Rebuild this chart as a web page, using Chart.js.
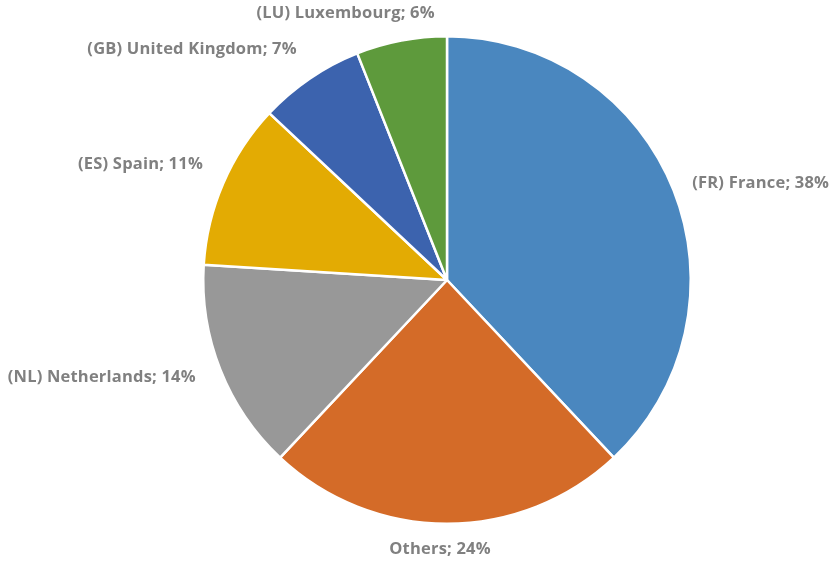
<!DOCTYPE html>
<html>
<head>
<meta charset="utf-8">
<script src="https://cdn.jsdelivr.net/npm/chart.js@4"></script>
<style>
html,body{margin:0;padding:0;background:#fff;}
#wrap{width:838px;height:563px;position:relative;}
</style>
</head>
<body>
<div id="wrap"><canvas id="c" width="838" height="563"></canvas></div>
<script>
const categories = ["(FR) France", "Others", "(NL) Netherlands", "(ES) Spain", "(GB) United Kingdom", "(LU) Luxembourg"];
const shares = [38, 24, 14, 11, 7, 6];
const colors = ["#4a87bf", "#d46b28", "#989898", "#e3ab03", "#3c63ae", "#5e9a3c"];

// small label nudges (px) to mimic the original best-fit placement
const labelNudge = [[0,0],[-7,-2],[-6,0],[-2,-11],[-2,-13],[-52,0]];

const labelPlugin = {
  id: 'outLabels',
  afterDatasetsDraw(chart) {
    const ctx = chart.ctx;
    const meta = chart.getDatasetMeta(0);
    ctx.save();
    ctx.font = 'bold 16.5px "Open Sans", sans-serif';
    if ('letterSpacing' in ctx) ctx.letterSpacing = '0.2px';
    ctx.fillStyle = '#808080';
    ctx.textBaseline = 'middle';
    meta.data.forEach((arc, i) => {
      const p = arc.getProps(['x','y','startAngle','endAngle','outerRadius'], true);
      const mid = (p.startAngle + p.endAngle) / 2;
      const R = p.outerRadius + 20;
      const cx = Math.cos(mid), sy = Math.sin(mid);
      let x = p.x + R * cx;
      let y = p.y + R * sy;
      let align = 'center';
      if (cx > 0.3) align = 'left';
      else if (cx < -0.3) align = 'right';
      else y += sy * 8;
      ctx.textAlign = align;
      const txt = categories[i] + '; ' + shares[i] + '%';
      ctx.fillText(txt, x + labelNudge[i][0], y + labelNudge[i][1]);
    });
    ctx.restore();
  }
};

new Chart(document.getElementById('c'), {
  type: 'pie',
  data: {
    labels: categories,
    datasets: [{
      data: shares,
      backgroundColor: colors,
      borderColor: '#ffffff',
      borderWidth: 2.5
    }]
  },
  options: {
    responsive: false,
    animation: false,
    layout: { padding: { top: 35, bottom: 38, left: 100, right: 44 } },
    plugins: { legend: { display: false }, tooltip: { enabled: false } }
  },
  plugins: [labelPlugin]
});
</script>
</body>
</html>
